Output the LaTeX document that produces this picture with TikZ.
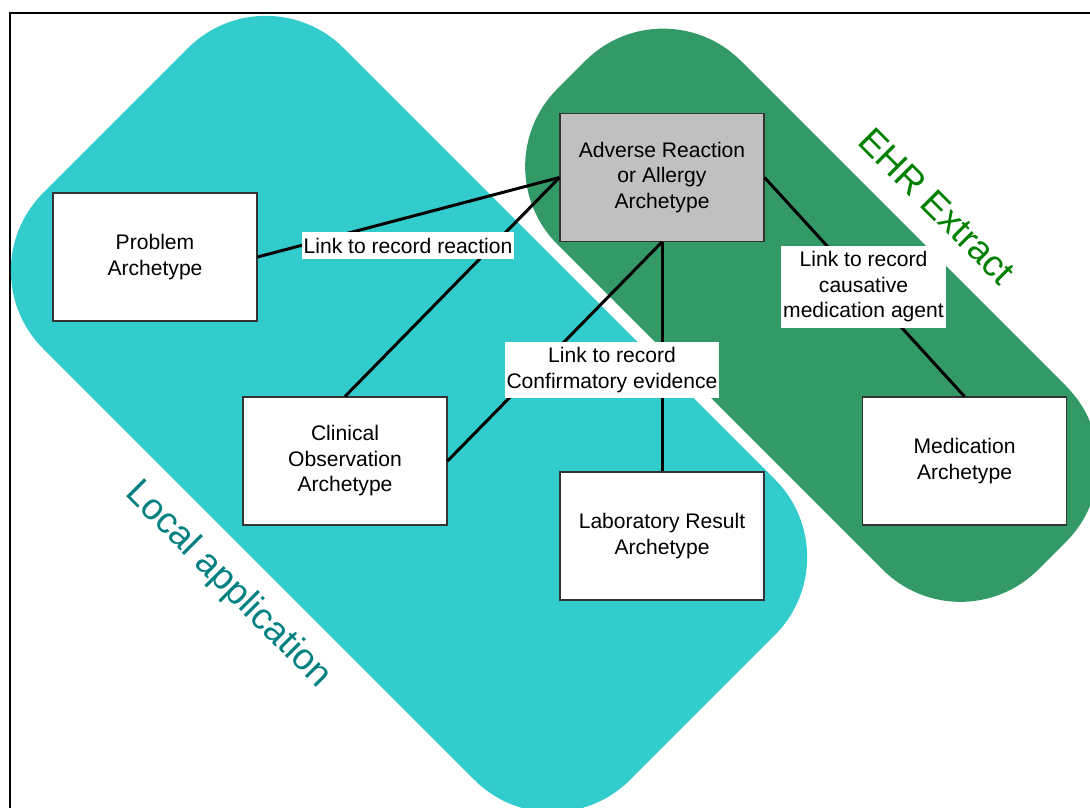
\documentclass[tikz,border=0pt]{standalone}
\usepackage{fontspec}
\setmainfont{Liberation Sans}
\usetikzlibrary{positioning}
\definecolor{localcyan}{HTML}{33CCCC}
\definecolor{ehrgreen}{HTML}{339966}
\definecolor{boxgray}{HTML}{C0C0C0}
\definecolor{ehrtext}{HTML}{008000}
\definecolor{localtext}{HTML}{008080}
\tikzset{
  regionblob/.style={
    rectangle,
    rounded corners=2.2cm,
    inner sep=0pt,
    rotate=-45
  },
  archbox/.style={
    rectangle,
    draw=black!80,
    line width=0.6pt,
    fill=white,
    minimum width=4.08cm,
    minimum height=2.56cm,
    align=center,
    font=\fontsize{12}{14.5}\selectfont
  },
  reactionbox/.style={archbox,fill=boxgray},
  linklabel/.style={fill=white,inner xsep=1pt,inner ysep=3pt,align=center,font=\fontsize{12}{14.5}\selectfont},
  regionlabel/.style={rotate=-45,font=\fontsize{21}{24}\selectfont},
  linkline/.style={line width=1.7pt,draw=black}
}
\begin{document}
\begin{tikzpicture}
  \useasboundingbox (0,0) rectangle (21.8,16.14);
  \clip (0,0) rectangle (21.8,16.14);
  \draw[line width=1.1pt] (0.2,-1) rectangle (23,15.88);

  % the two regions
  \node[regionblob,fill=localcyan,minimum width=16.6cm,minimum height=8.5cm] (localapp) at (8.18,7.86) {};
  \node[regionblob,fill=ehrgreen,minimum width=13.6cm,minimum height=5.19cm] (ehrextract) at (16.235,9.835) {};
  \node[regionlabel,text=ehrtext]   (ehrlabel)   at (18.74,12.02) {EHR Extract};
  \node[regionlabel,text=localtext] (locallabel) at (4.56,4.44) {Local application};

  % archetypes
  \node[reactionbox] (adverse)    at (13.24,12.59) {Adverse Reaction\\or Allergy\\Archetype};
  \node[archbox]     (problem)    at (3.10,11.00)  {Problem\\Archetype};
  \node[archbox]     (clinical)   at (6.90,6.92)   {Clinical\\Observation\\Archetype};
  \node[archbox]     (laboratory) at (13.24,5.42)  {Laboratory Result\\Archetype};
  \node[archbox]     (medication) at (19.29,6.92)  {Medication\\Archetype};

  \draw[linkline] (problem.east) -- (adverse.west);
  \draw[linkline] (clinical.north) -- (adverse.west);
  \draw[linkline] (clinical.east) -- (adverse.south);
  \draw[linkline] (adverse.south) -- (laboratory.north);
  \draw[linkline] (adverse.east) -- (medication.north);

  % link labels
  \node[linklabel] (reactionlink)  at (8.16,11.23)  {Link to record reaction};
  \node[linklabel] (evidencelink)  at (12.24,8.74)  {Link to record\\Confirmatory evidence};
  \node[linklabel] (causativelink) at (17.27,10.40) {Link to record\\causative\\medication agent};
\end{tikzpicture}
\end{document}
